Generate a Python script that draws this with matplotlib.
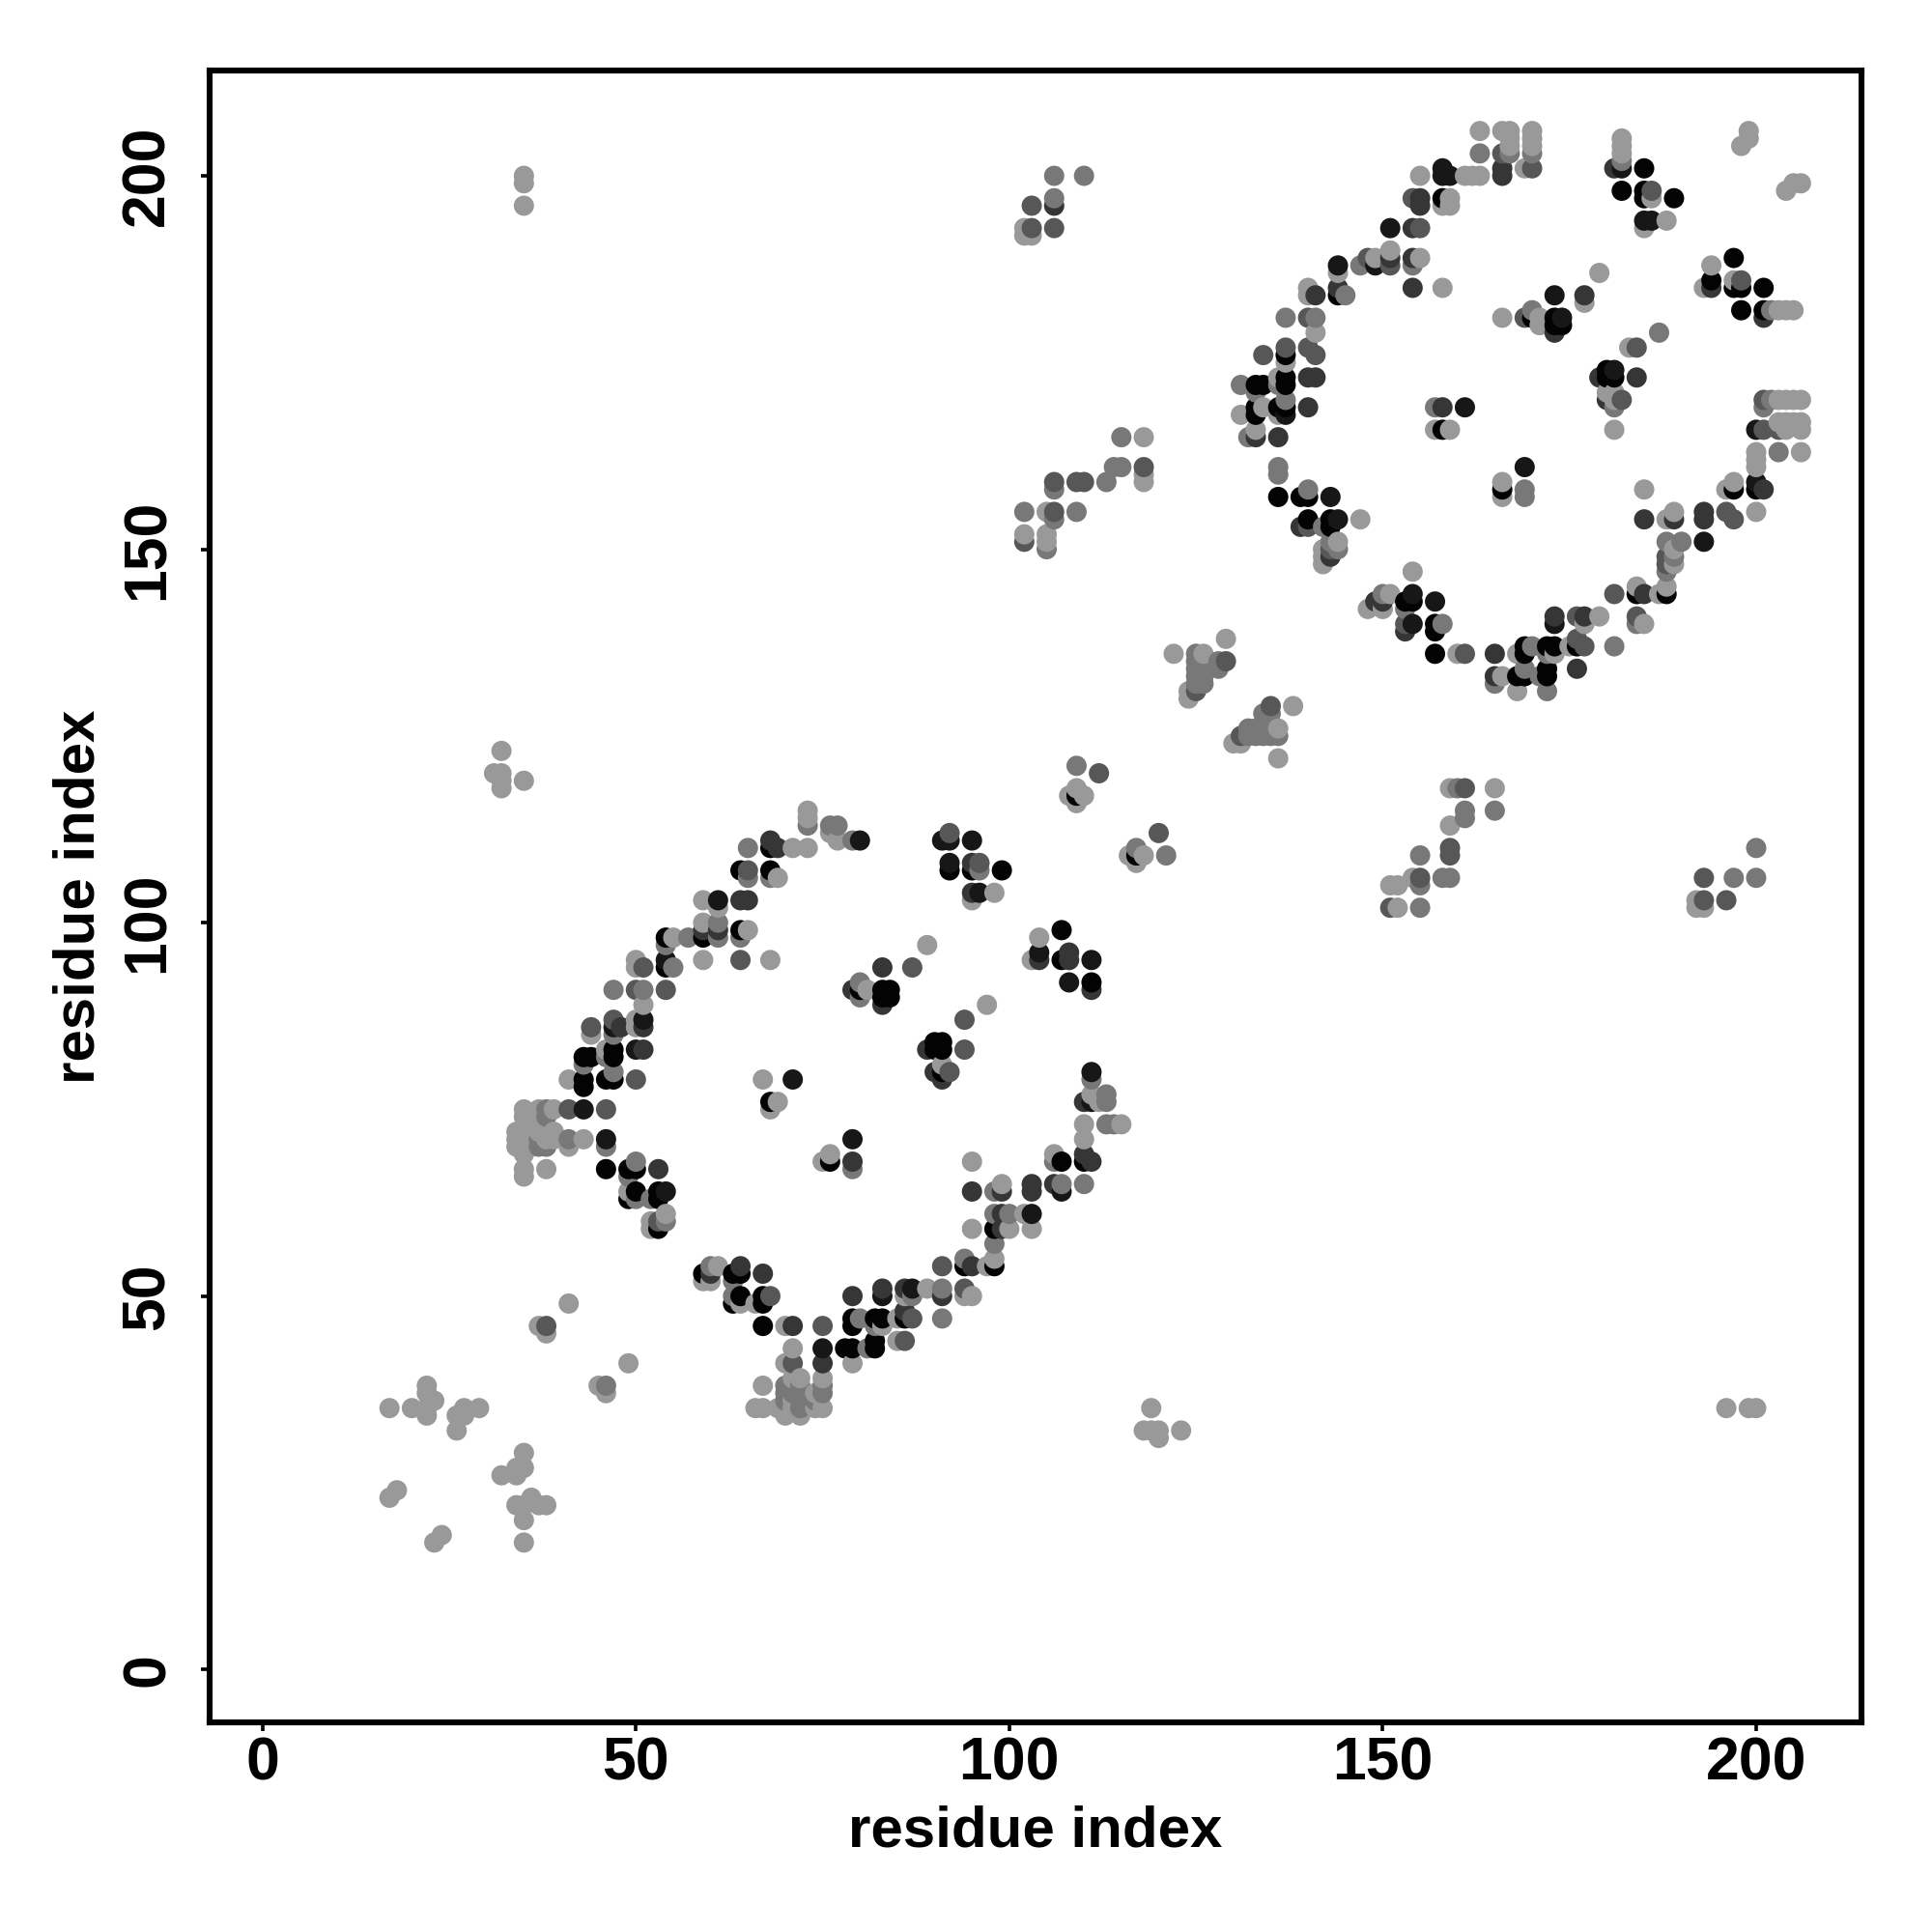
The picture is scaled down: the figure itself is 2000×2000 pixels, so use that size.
import numpy as np
import matplotlib
matplotlib.use("Agg")
import matplotlib.pyplot as plt

plt.rcParams['font.family'] = ['Liberation Sans', 'DejaVu Sans']

tick_values = [0, 50, 100, 150, 200]
x_label = "residue index"
y_label = "residue index"

light = [(17,35),(20,35),(22,38),(22,37),(23,36),(22,35),(22,34),(29,35),(27,35),(26,34),(27,34),(26,32),
 (35,29),(35,27),(34,27),(34,26),(32,26),(18,24),(17,23),(24,18),(23,17),(36,23),(34,22),(35,22),(37,22),(38,22),
 (35,20),(35,17),(49,41),(45,38),(46,37),(37,46),(38,45),(41,49),(35,200),(35,199),(35,196),(32,123),(31,120),(32,120),
 (32,119),(32,118),(35,119),(119,35),(118,32),(119,32),(120,31),(120,32),(123,32),(196,35),(199,35),(200,35),
 (67,38),(66,35),(67,35),(69,35),(70,34),(72,34),(71,39),(72,39),(75,39),(74,37),(70,41),(71,43),(70,46),(79,41),
 (70,35),(71,36),(71,35),(72,35),(74,35),(75,35),(85,44),(85,47),(83,46),(86,50),(89,51),(94,50),(95,50),(97,54),(98,55),
 (95,59),(95,68),(102,61),(100,59),(103,59),(99,65),(106,69),(76,69),(75,68),(79,67),(110,71),(110,73),(115,73),
 (61,54),(59,52),(60,52),(64,49),(66,49),(73,115),(73,114),(77,111),(76,112),(71,110),(73,110),(69,106),(59,103),(61,102),
 (59,100),(55,98),(65,99),(59,95),(68,95),(50,95),(50,94),(51,89),(50,87),(50,86),(44,85),(46,83),(41,79),
 (35,75),(35,74),(37,75),(37,74),(39,75),(34,72),(35,72),(36,72),(37,72),(38,72),(39,72),(34,71),(35,71),(36,71),(38,71),(39,71),
 (34,70),(35,70),(36,70),(35,69),(35,67),(35,66),(38,67),(43,71),(41,70),(49,64),(54,61),(52,60),(52,59),(67,79),(69,76),(68,75),
 (81,91),(89,97),(91,81),(92,107),(95,103),(104,98),(103,95),(98,104),(97,89),(111,77),(112,76),(109,118),(108,117),(110,117),(109,116),
 (116,109),(118,109),(117,108),(122,136),(126,136),(129,138),(138,129),(136,126),(130,124),(131,124),(136,122),(124,131),(124,130),
 (118,165),(118,160),(118,159),(105,155),(102,152),(105,152),(105,151),(154,106),(151,105),(152,105),(152,102),(159,118),(165,118),(159,113),
 (192,103),(192,102),(193,102),(103,193),(102,193),(102,192),(103,192),
 (163,206),(166,206),(167,206),(170,206),(167,205),(170,205),(167,204),(170,204),(169,201),(155,200),(161,200),(162,200),(163,200),
 (159,197),(158,196),(159,196),(151,190),(148,189),(149,189),(155,189),(144,187),(140,185),(158,185),(140,184),(141,179),(140,177),(137,175),
 (136,173),(131,168),(134,169),(136,168),(133,166),(179,187),(177,183),(166,181),(171,181),(171,180),(183,177),(180,171),(181,171),(181,170),(181,166),
 (157,166),(159,166),(166,159),(166,157),(185,158),(182,205),(182,204),(182,203),(186,197),(188,194),(185,193),(199,206),(199,205),(198,204),
 (206,199),(205,199),(204,198),(194,188),(193,185),(197,186),(203,182),(204,182),(205,182),(201,169),(203,170),(204,170),(205,170),(206,170),
 (203,167),(204,167),(205,167),(206,167),(204,166),(206,166),(200,163),(206,163),(200,162),(200,161),(197,159),(196,158),(200,155),
 (189,155),(188,154),(190,151),(189,150),(189,148),(187,144),(188,145),(185,140),(179,141),(177,140),(175,137),(173,136),(168,136),(168,131),(166,133),
 (160,136),(154,147),(151,144),(148,142),(150,142),(144,151),(142,150),(142,149),(142,148),(147,154),(184,145)]

mid = [(46,38),(70,38),(70,37),(70,36),(71,38),(71,37),(72,38),(72,37),(72,36),(72,35),(75,38),(75,37),(74,36),(81,43),(80,47),(83,47),(82,46),
 (87,50),(91,51),(91,47),(94,55),(98,57),(98,61),(100,61),(98,64),(107,65),(110,65),(106,68),(79,67),(113,73),(114,73),(60,54),(63,52),(63,50),(68,50),
 (73,113),(76,113),(77,113),(79,111),(65,110),(65,107),(65,106),(68,106),(61,100),(61,98),(64,98),(54,97),(57,98),(55,94),(47,91),(51,91),(47,85),
 (43,81),(46,82),(47,80),(38,75),(38,74),(37,71),(37,70),(38,70),(41,71),(46,70),(50,68),(49,66),(50,63),(52,63),(54,60),(80,92),(80,90),(96,107),(111,79),
 (110,76),(113,77),(113,76),(117,110),(121,109),(109,121),(125,136),(125,135),(126,135),(125,134),(126,134),(125,133),(126,133),(125,132),(126,132),(128,135),(128,134),
 (134,128),(135,128),(136,125),(132,126),(133,126),(134,126),(135,126),(132,125),(133,125),(134,125),(135,125),
 (115,165),(114,161),(115,161),(113,159),(106,158),(102,155),(109,155),(106,154),(105,150),
 (155,109),(158,106),(159,106),(155,105),(155,102),(160,118),(161,115),(161,114),(165,115),(197,106),(200,106),(200,110),
 (106,200),(110,200),(106,197),(163,203),(167,203),(170,203),(182,202),(147,188),(154,188),(145,184),(137,181),(141,181),(131,172),(133,171),(136,172),(137,170),(132,165),
 (136,160),(187,179),(170,182),(157,169),(181,169),(169,158),(169,157),(202,170),(201,169),(203,163),(202,182),(188,147),(188,151),(190,151),(189,149),
 (184,140),(181,137),(170,137),(172,136),(172,131),(171,133),(169,134),(165,132),(158,140),(153,142),(150,144),(143,151),(144,150),(142,153),(140,158),(136,161)]

middark = [(38,46),(71,41),(75,46),(68,50),(86,47),(87,47),(91,54),(94,51),(86,44),(103,196),(103,193),(106,193),(106,159),(109,159),(110,159),(118,161),(106,155),(102,151),
 (65,107),(64,95),(51,94),(50,91),(54,91),(47,87),(44,86),(41,75),(46,75),(50,79),(49,63),(53,60),(87,94),(94,87),(94,83),(92,112),(92,80),(96,108),(112,120),(120,112),
 (129,135),(135,129),(131,125),(125,131),(159,110),(159,109),(161,118),(193,106),(193,103),(196,103),(151,102),(155,106),(166,203),(170,201),(154,197),(154,193),(155,193),
 (148,189),(151,188),(140,181),(137,177),(140,177),(134,176),(141,176),(177,184),(182,170),(184,177),(201,170),(201,166),(203,166),(196,155),(197,154),(188,148),(188,149),
 (181,144),(184,141),(176,141),(176,138),(177,137),(161,136),(153,140),(143,150),(140,153),(136,165),(198,186),(186,198),(169,181)]

dark = [(71,46),(75,41),(79,50),(83,51),(86,51),(86,48),(91,50),(95,54),(95,64),(99,61),(99,59),(99,64),(103,64),(103,65),(106,65),(110,69),(111,68),(79,68),
 (64,54),(67,53),(60,53),(68,111),(69,110),(64,103),(65,103),(59,99),(61,99),(51,86),(48,86),(51,83),(44,82),(53,67),(91,111),(91,79),(95,108),(95,104),(108,96),(108,95),(104,95),(79,91),(83,94),(83,89),
 (89,83),(90,80),(111,91),(110,76),(166,201),(166,200),(154,193),(155,197),(155,196),(141,184),(144,185),(140,173),(141,173),(140,169),(136,165),(133,165),(177,184),(173,184),(173,179),(179,173),(184,173),(180,170),
 (158,169),(193,155),(193,154),(189,154),(185,154),(185,144),(177,141),(173,141),(165,136),(165,133),(153,139),(149,143),(150,143),(143,149),(139,153),(181,201),(201,181),(201,158),(200,166),(194,185),(176,134),(143,157),(136,169),
 (154,185),(154,189),(151,189),(106,196)]

vdark = [(75,43),(87,51),(103,61),(107,64),(64,107),(61,103),(80,111),(54,95),(51,87),(50,83),(47,86),(46,71),(43,75),(91,111),(92,111),(92,108),(95,111),(96,104),(104,96),(111,95),(108,92),(111,80),(111,76),
 (79,71),(71,79),(54,64),(158,201),(158,200),(159,200),(151,193),(144,188),(149,188),(137,168),(144,154),(143,157),(173,184),(174,181),(161,169),(181,174),(169,161),(182,201),(186,194),(185,194),(200,166),(200,159),(173,140),
 (193,151),(154,144),(154,140),(157,143),(181,173),(83,50)]

black = [(67,46),(78,43),(79,43),(82,43),(82,44),(79,47),(79,46),(82,47),(86,47),(83,47),(94,54),(98,54),(98,59),(107,68),(110,68),(64,53),(63,53),(59,53),(64,50),(67,50),(67,49),(63,49),(68,110),(68,107),(64,107),
 (54,98),(59,98),(64,99),(54,94),(47,82),(47,83),(43,82),(44,82),(43,79),(43,78),(46,79),(47,79),(46,67),(49,67),(50,67),(50,64),(53,64),(53,63),(49,63),(53,59),(68,76),(80,91),(83,91),(84,91),(83,90),(84,90),(90,84),(91,84),(90,83),(91,83),(91,80),
 (92,107),(95,107),(99,107),(107,99),(107,95),(111,92),(109,117),(117,109),(76,68),(144,184),(133,172),(134,172),(137,173),(137,172),(133,169),(136,169),(137,169),(133,168),(137,176),(136,157),(139,157),(140,157),(140,154),(143,154),(143,153),
 (158,197),(170,181),(173,181),(173,180),(174,180),(180,173),(181,173),(180,174),(158,166),(166,158),(185,201),(182,198),(185,198),(185,197),(189,197),(197,189),(194,186),(197,185),(198,185),(201,185),(198,182),(201,182),(197,158),(200,158),
 (184,144),(188,144),(172,137),(173,137),(176,137),(169,137),(169,136),(157,140),(157,139),(157,136),(172,134),(172,133),(168,133),(169,133),(154,143),(153,143),(136,157)]

levels = [(light, 0.60), (mid, 0.47), (middark, 0.34), (dark, 0.21), (vdark, 0.09), (black, 0.01)]

seen = {}
for pts, g in levels:
    for p in pts:
        seen[p] = g
xs = np.array([p[0] for p in seen])
ys = np.array([p[1] for p in seen])
gs = np.array(list(seen.values()))
order = np.lexsort((ys, xs))

fig = plt.figure(figsize=(10, 10), dpi=200)
ax = fig.add_axes([217/2000, 217/2000, 1710/2000, 1710/2000])
ax.scatter(xs[order], ys[order], s=57, c=[(g, g, g) for g in gs[order]], linewidths=0, zorder=2, clip_on=True)
ax.set_xlim(-7.08, 214.1)
ax.set_ylim(-7.08, 214.1)
ax.set_xticks(tick_values)
ax.set_yticks(tick_values)
ax.tick_params(axis='x', direction='out', length=3.4, width=1.3, labelsize=22.5, pad=1.5)
ax.tick_params(axis='y', direction='out', length=3.4, width=1.3, labelsize=22.5, pad=9)
for lab in ax.get_xticklabels():
    lab.set_fontweight('bold')
for lab in ax.get_yticklabels():
    lab.set_fontweight('bold')
    lab.set_rotation(90)
    lab.set_va('center')
for s in ax.spines.values():
    s.set_linewidth(2.2)
ax.set_xlabel(x_label, fontsize=21.6, fontweight='bold', labelpad=4.5)
ax.set_ylabel(y_label, fontsize=21.6, fontweight='bold', labelpad=5)
fig.savefig("out.png", dpi=200, facecolor='white')
